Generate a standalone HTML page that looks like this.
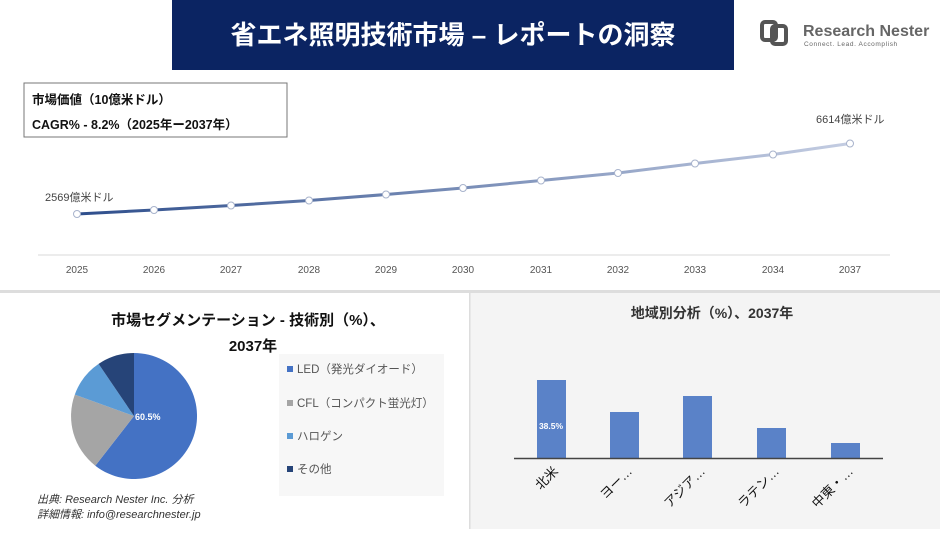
<!DOCTYPE html>
<html><head><meta charset="utf-8"><style>
body{margin:0;width:940px;height:529px;overflow:hidden;background:#fff;font-family:"Liberation Sans","Noto Sans CJK JP",sans-serif;}
</style></head><body>
<svg width="940" height="529" viewBox="0 0 940 529" xmlns="http://www.w3.org/2000/svg" font-family="Liberation Sans, Noto Sans CJK JP, sans-serif">
<rect width="940" height="529" fill="#fff"/>
<rect x="172" y="0" width="562" height="70" fill="#0b2462"/>
<text x="453" y="44" text-anchor="middle" fill="#fff" font-size="26" font-weight="bold">省エネ照明技術市場 – レポートの洞察</text>
<rect x="762" y="22" width="14" height="18" rx="3" fill="none" stroke="#555" stroke-width="4"/>
<rect x="772" y="26" width="14" height="18" rx="3" fill="none" stroke="#555" stroke-width="4"/>
<text x="803" y="36" fill="#666" font-size="16" font-weight="bold">Research Nester</text>
<text x="804" y="46" fill="#666" font-size="6.5" letter-spacing="0.6">Connect. Lead. Accomplish</text>
<rect x="24" y="83" width="263" height="54" fill="#fff" stroke="#777" stroke-width="1"/>
<text x="32" y="104" font-size="12.5" font-weight="bold" fill="#111">市場価値（10億米ドル）</text>
<text x="32" y="129" font-size="12.5" font-weight="bold" fill="#111">CAGR% - 8.2%（2025年ー2037年）</text>
<defs><linearGradient id="lg" x1="77" y1="0" x2="850" y2="0" gradientUnits="userSpaceOnUse"><stop offset="0" stop-color="#2e4e8c"/><stop offset="1" stop-color="#c4cde2"/></linearGradient></defs>
<line x1="38" y1="255" x2="890" y2="255" fill="none" stroke="#d9d9d9"/>
<polyline fill="none" stroke="url(#lg)" stroke-width="3" points="77,214 154,210 231,205.5 309,200.5 386,194.5 463,188 541,180.5 618,173 695,163.5 773,154.5 850,143.5"/>
<g fill="#fff" stroke="#a8b3cc" stroke-width="1">
<circle cx="77" cy="214" r="3.5"/><circle cx="154" cy="210" r="3.5"/><circle cx="231" cy="205.5" r="3.5"/><circle cx="309" cy="200.5" r="3.5"/><circle cx="386" cy="194.5" r="3.5"/><circle cx="463" cy="188" r="3.5"/><circle cx="541" cy="180.5" r="3.5"/><circle cx="618" cy="173" r="3.5"/><circle cx="695" cy="163.5" r="3.5"/><circle cx="773" cy="154.5" r="3.5"/><circle cx="850" cy="143.5" r="3.5"/>
</g>
<text x="45" y="201" font-size="11" fill="#444">2569億米ドル</text>
<text x="816" y="123" font-size="11" fill="#444">6614億米ドル</text>
<g font-size="10" fill="#555" text-anchor="middle">
<text x="77" y="273">2025</text><text x="154" y="273">2026</text><text x="231" y="273">2027</text><text x="309" y="273">2028</text><text x="386" y="273">2029</text><text x="463" y="273">2030</text><text x="541" y="273">2031</text><text x="618" y="273">2032</text><text x="695" y="273">2033</text><text x="773" y="273">2034</text><text x="850" y="273">2037</text>
</g>
<rect x="0" y="290" width="940" height="3" fill="#ddd"/>
<rect x="470" y="293" width="470" height="236" fill="#f4f4f4"/>
<rect x="469" y="293" width="1.5" height="236" fill="#ddd"/>
<text x="248" y="325" text-anchor="middle" font-size="15" font-weight="bold" fill="#111">市場セグメンテーション - 技術別（%）、</text>
<text x="253" y="351" text-anchor="middle" font-size="15" font-weight="bold" fill="#111">2037年</text>
<path d="M134,416 L134,353 A63,63 0 1 1 95.3,465.7 Z" fill="#4472c4"/>
<path d="M134,416 L95.3,465.7 A63,63 0 0 1 74.8,394.6 Z" fill="#a5a5a5"/>
<path d="M134,416 L74.8,394.6 A63,63 0 0 1 98.6,363.9 Z" fill="#5b9bd5"/>
<path d="M134,416 L98.6,363.9 A63,63 0 0 1 134,353 Z" fill="#264478"/>
<text x="135" y="420" font-size="9" font-weight="bold" fill="#fff">60.5%</text>
<rect x="279" y="354" width="165" height="142" fill="#f7f7f7"/>
<g font-size="11.5" fill="#555">
<rect x="287" y="366" width="6" height="6" fill="#4472c4"/><text x="297" y="373">LED（発光ダイオード）</text>
<rect x="287" y="400" width="6" height="6" fill="#a5a5a5"/><text x="297" y="407">CFL（コンパクト蛍光灯）</text>
<rect x="287" y="433" width="6" height="6" fill="#5b9bd5"/><text x="297" y="440">ハロゲン</text>
<rect x="287" y="466" width="6" height="6" fill="#264478"/><text x="297" y="473">その他</text>
</g>
<text x="37" y="503" font-size="11" font-style="italic" fill="#333">出典: Research Nester Inc. 分析</text>
<text x="37" y="518" font-size="11" font-style="italic" fill="#333">詳細情報: info@researchnester.jp</text>
<text x="712" y="318" text-anchor="middle" font-size="14" font-weight="bold" fill="#333">地域別分析（%）、2037年</text>
<g fill="#5a82c8">
<rect x="537" y="380" width="29" height="78"/><rect x="610" y="412" width="29" height="46"/><rect x="683" y="396" width="29" height="62"/><rect x="757" y="428" width="29" height="30"/><rect x="831" y="443" width="29" height="15"/>
</g>
<line x1="514" y1="458.5" x2="883" y2="458.5" stroke="#444" stroke-width="1.5"/>
<text x="551" y="429" text-anchor="middle" font-size="8.5" font-weight="bold" fill="#fff">38.5%</text>
<g font-size="13" fill="#111" text-anchor="end">
<text transform="translate(559,472) rotate(-45)">北米</text>
<text transform="translate(633,472) rotate(-45)">ヨー…</text>
<text transform="translate(706,472) rotate(-45)">アジア…</text>
<text transform="translate(780,472) rotate(-45)">ラテン…</text>
<text transform="translate(854,472) rotate(-45)">中東・…</text>
</g>
</svg>
</body></html>
